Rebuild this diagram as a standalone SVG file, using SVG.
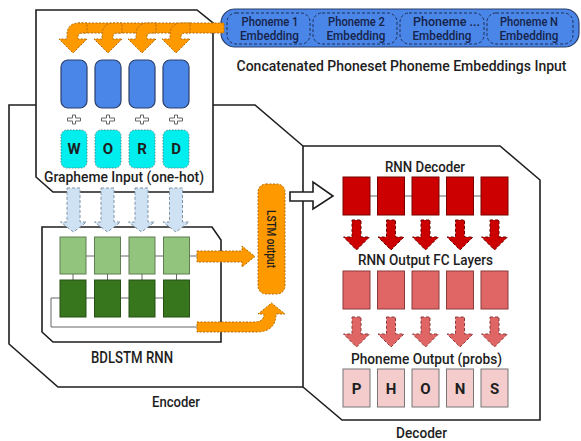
<svg xmlns="http://www.w3.org/2000/svg" width="581" height="441" viewBox="0 0 581 441">
  <style>
    .t { font-family: Roboto, "Liberation Sans", sans-serif; font-weight: 500; fill: #1e1e1e; }
    .frame { fill: none; stroke: #1e1e1e; stroke-width: 1.6; }
    .wire { fill: none; stroke: #666; stroke-width: 1; }
    .orange { fill: #ff9900; stroke: #b36b00; stroke-width: 1; stroke-dasharray: 2 1.5; }
    .emb { fill: #4a86e8; stroke: #2b3f6b; stroke-width: 1.2; }
    .emb-cell { fill: none; stroke: #1f2e55; stroke-width: 1; stroke-dasharray: 3 2; }
    .emb-txt { font-family: Roboto, "Liberation Sans", sans-serif; font-weight: 500; fill: #16234a; font-size: 13px; }
    .onehot { fill: #00eeee; stroke: #5a8a8a; stroke-width: 1; stroke-dasharray: 1.5 1.5; }
    .plus { fill: #fff; stroke: #666; stroke-width: 1; }
    .down-blue { fill: #cfe2f3; stroke: #8094a8; stroke-width: 1; stroke-dasharray: 3 2; }
    .lstm-f { fill: #93c47d; stroke: #5f7f52; stroke-width: 1; }
    .lstm-b { fill: #38761d; stroke: #274f16; stroke-width: 1; }
    .dec { fill: #cc0000; stroke: #7a0000; stroke-width: 1; }
    .fc { fill: #e06666; stroke: #8a3a3a; stroke-width: 1; }
    .out { fill: #f4cccc; stroke: #777; stroke-width: 1; }
    .down-red { fill: #cc0000; stroke: #6a0000; stroke-width: 1; stroke-dasharray: 3 2; }
    .down-pink { fill: #e06666; stroke: #8a3a3a; stroke-width: 1; stroke-dasharray: 3 2; }
    .letter { font-family: Roboto, "Liberation Sans", sans-serif; font-weight: 700; font-size: 15px; fill: #1e1e1e; text-anchor: middle; }
  </style>
  <defs>
    <path id="cross" d="M-1.5,-4.5 h3 v3 h5 v3 h-5 v3 h-3 v-3 h-5 v-3 h5 z"/>
    <!-- bent arrow dropping from the embedding band -->
    <path id="bend" d="M14,39 L0,53 L-14,39 L-6,39 L-6,35 Q-6,23 6,23 L14,23 L14,33 L9,33 Q5,33 5,37 L5,39 Z"/>
    <path id="dn-blue" d="M-6.5,188 L6.5,188 L6.5,222 L13,222 L0,232 L-13,222 L-6.5,222 Z"/>
    <path id="dn-red" d="M-4.5,220 L4.5,220 L4.5,237 L13,237 L0,250 L-13,237 L-4.5,237 Z"/>
    <path id="dn-pink" d="M-4.5,317 L4.5,317 L4.5,334 L13,334 L0,347 L-13,334 L-4.5,334 Z"/>
  </defs>

  <!-- outer frames -->
  <g id="encoder">
    <polyline class="frame" points="36,105 9,105 9,344 58,387 303,387"/>
    <polyline class="frame" points="213,105 255,105 303,146"/>
    <text class="t" x="176" y="406.5" font-size="15" text-anchor="middle" textLength="48" lengthAdjust="spacingAndGlyphs">Encoder</text>
  </g>
  <g id="decoder">
    <polygon class="frame" points="303,146 500,146 540,180 540,420 342,420 303,387"/>
    <text class="t" x="421.5" y="438" font-size="14.5" text-anchor="middle" textLength="51" lengthAdjust="spacingAndGlyphs">Decoder</text>
  </g>

  <!-- grapheme input block -->
  <g id="grapheme-input">
    <polygon class="frame" points="36,10 197,10 213,23 213,192 53,192 36,177" fill="#fff"/>
    <rect class="emb" x="61" y="60" width="26" height="48" rx="7"/>
    <rect class="emb" x="95" y="60" width="26" height="48" rx="7"/>
    <rect class="emb" x="129" y="60" width="26" height="48" rx="7"/>
    <rect class="emb" x="163" y="60" width="26" height="48" rx="7"/>
    <use href="#cross" class="plus" x="74" y="119.5"/>
    <use href="#cross" class="plus" x="108" y="119.5"/>
    <use href="#cross" class="plus" x="142" y="119.5"/>
    <use href="#cross" class="plus" x="176" y="119.5"/>
    <rect class="onehot" x="61" y="130" width="26" height="38" rx="6"/>
    <rect class="onehot" x="95" y="130" width="26" height="38" rx="6"/>
    <rect class="onehot" x="129" y="130" width="26" height="38" rx="6"/>
    <rect class="onehot" x="163" y="130" width="26" height="38" rx="6"/>
    <text class="letter" x="74" y="154">W</text>
    <text class="letter" x="108" y="154">O</text>
    <text class="letter" x="142" y="154">R</text>
    <text class="letter" x="176" y="154">D</text>
    <text class="t" x="124" y="182" font-size="15.5" text-anchor="middle" textLength="160" lengthAdjust="spacingAndGlyphs">Grapheme Input (one-hot)</text>
  </g>

  <!-- phoneme embeddings pill -->
  <g id="phoneme-embeddings">
    <rect class="emb" x="221" y="9" width="358" height="38" rx="14"/>
    <rect class="emb-cell" x="227" y="13" width="83" height="31" rx="9"/>
    <rect class="emb-cell" x="313" y="13" width="84" height="31" rx="9"/>
    <rect class="emb-cell" x="400" y="13" width="84" height="31" rx="9"/>
    <rect class="emb-cell" x="487" y="13" width="86" height="31" rx="9"/>
    <g text-anchor="middle">
      <text class="emb-txt" x="270" y="26" textLength="57" lengthAdjust="spacingAndGlyphs">Phoneme 1</text>
      <text class="emb-txt" x="269.5" y="39.5" textLength="59" lengthAdjust="spacingAndGlyphs">Embedding</text>
      <text class="emb-txt" x="356.5" y="26" textLength="57" lengthAdjust="spacingAndGlyphs">Phoneme 2</text>
      <text class="emb-txt" x="356" y="39.5" textLength="59" lengthAdjust="spacingAndGlyphs">Embedding</text>
      <text class="emb-txt" x="446.5" y="26" textLength="67" lengthAdjust="spacingAndGlyphs">Phoneme ...</text>
      <text class="emb-txt" x="442" y="39.5" textLength="59" lengthAdjust="spacingAndGlyphs">Embedding</text>
      <text class="emb-txt" x="529" y="26" textLength="58" lengthAdjust="spacingAndGlyphs">Phoneme N</text>
      <text class="emb-txt" x="529" y="39.5" textLength="59" lengthAdjust="spacingAndGlyphs">Embedding</text>
    </g>
    <text class="t" x="401.5" y="71" font-size="14" text-anchor="middle">Concatenated Phoneset Phoneme Embeddings Input</text>
  </g>

  <!-- bidirectional LSTM -->
  <g id="bdlstm">
    <polygon class="frame" points="42,227 212,227 221,240 221,342 53,342 42,332"/>
    <line class="wire" x1="60" y1="256" x2="198" y2="256"/>
    <line class="wire" x1="73" y1="274" x2="73" y2="280"/>
    <line class="wire" x1="107.5" y1="274" x2="107.5" y2="280"/>
    <line class="wire" x1="142" y1="274" x2="142" y2="280"/>
    <line class="wire" x1="176.5" y1="274" x2="176.5" y2="280"/>
    <polyline class="wire" points="189,298 51,298 51,327 198,327"/>
    <rect class="lstm-f" x="60" y="237" width="26" height="37"/>
    <rect class="lstm-f" x="94.5" y="237" width="26" height="37"/>
    <rect class="lstm-f" x="129" y="237" width="26" height="37"/>
    <rect class="lstm-f" x="163.5" y="237" width="26" height="37"/>
    <rect class="lstm-b" x="60" y="280" width="26" height="37"/>
    <rect class="lstm-b" x="94.5" y="280" width="26" height="37"/>
    <rect class="lstm-b" x="129" y="280" width="26" height="37"/>
    <rect class="lstm-b" x="163.5" y="280" width="26" height="37"/>
    <text class="t" x="132" y="363" font-size="16" text-anchor="middle" textLength="82" lengthAdjust="spacingAndGlyphs">BDLSTM RNN</text>
  </g>

  <!-- concatenated LSTM output -->
  <g id="lstm-output">
    <rect class="orange" x="258" y="184" width="27" height="110" rx="8"/>
    <text class="t" font-size="13" text-anchor="middle" transform="translate(266.5,239) rotate(90)" textLength="58" lengthAdjust="spacingAndGlyphs">LSTM output</text>
  </g>

  <!-- RNN decoder stack -->
  <g id="rnn-decoder">
    <text class="t" x="425" y="172" font-size="15" text-anchor="middle" textLength="80" lengthAdjust="spacingAndGlyphs">RNN Decoder</text>
    <line class="wire" x1="343" y1="196" x2="508" y2="196"/>
    <rect class="dec" x="343" y="177" width="27" height="38"/>
    <rect class="dec" x="377.5" y="177" width="27" height="38"/>
    <rect class="dec" x="412" y="177" width="27" height="38"/>
    <rect class="dec" x="446.5" y="177" width="27" height="38"/>
    <rect class="dec" x="481" y="177" width="27" height="38"/>
  </g>
  <g id="fc-layers">
    <text class="t" x="425.5" y="264.5" font-size="15" text-anchor="middle" textLength="135" lengthAdjust="spacingAndGlyphs">RNN Output FC Layers</text>
    <rect class="fc" x="343" y="271" width="27" height="38"/>
    <rect class="fc" x="377.5" y="271" width="27" height="38"/>
    <rect class="fc" x="412" y="271" width="27" height="38"/>
    <rect class="fc" x="446.5" y="271" width="27" height="38"/>
    <rect class="fc" x="481" y="271" width="27" height="38"/>
  </g>
  <g id="phoneme-output">
    <text class="t" x="426.5" y="364" font-size="15" text-anchor="middle" textLength="151" lengthAdjust="spacingAndGlyphs">Phoneme Output (probs)</text>
    <rect class="out" x="343" y="369" width="27" height="38"/>
    <rect class="out" x="377.5" y="369" width="27" height="38"/>
    <rect class="out" x="412" y="369" width="27" height="38"/>
    <rect class="out" x="446.5" y="369" width="27" height="38"/>
    <rect class="out" x="481" y="369" width="27" height="38"/>
    <text class="letter" x="356.5" y="394">P</text>
    <text class="letter" x="391" y="394">H</text>
    <text class="letter" x="425.5" y="394">O</text>
    <text class="letter" x="460" y="394">N</text>
    <text class="letter" x="494.5" y="394">S</text>
  </g>

  <!-- connectors -->
  <g id="connectors">
    <!-- embeddings fanned out onto each grapheme -->
    <rect class="orange" x="78" y="23" width="146" height="10"/>
    <use href="#bend" class="orange" x="176"/>
    <use href="#bend" class="orange" x="142"/>
    <use href="#bend" class="orange" x="108"/>
    <use href="#bend" class="orange" x="73"/>
    <!-- grapheme columns into the LSTM -->
    <use href="#dn-blue" class="down-blue" x="73.5"/>
    <use href="#dn-blue" class="down-blue" x="107.5"/>
    <use href="#dn-blue" class="down-blue" x="141.5"/>
    <use href="#dn-blue" class="down-blue" x="176"/>
    <!-- forward and backward outputs -->
    <path class="orange" d="M197,251 L242,251 L242,246 L255,256.5 L242,267 L242,262 L197,262 Z"/>
    <path class="orange" d="M197,322 L254,322 Q264,322 264,314 L258,314 L271.5,303 L285,314 L276,314 Q276,332 256,332 L197,332 Z"/>
    <!-- encoder state handed to the decoder -->
    <path d="M290,192 L313,192 L313,182 L333,196 L313,209 L313,201 L290,201 Z" fill="#fff" stroke="#1e1e1e" stroke-width="1.6"/>
    <!-- decoder to FC -->
    <use href="#dn-red" class="down-red" x="356.5"/>
    <use href="#dn-red" class="down-red" x="391"/>
    <use href="#dn-red" class="down-red" x="425.5"/>
    <use href="#dn-red" class="down-red" x="460"/>
    <use href="#dn-red" class="down-red" x="494.5"/>
    <!-- FC to phoneme probabilities -->
    <use href="#dn-pink" class="down-pink" x="356.5"/>
    <use href="#dn-pink" class="down-pink" x="391"/>
    <use href="#dn-pink" class="down-pink" x="425.5"/>
    <use href="#dn-pink" class="down-pink" x="460"/>
    <use href="#dn-pink" class="down-pink" x="494.5"/>
  </g>
</svg>
